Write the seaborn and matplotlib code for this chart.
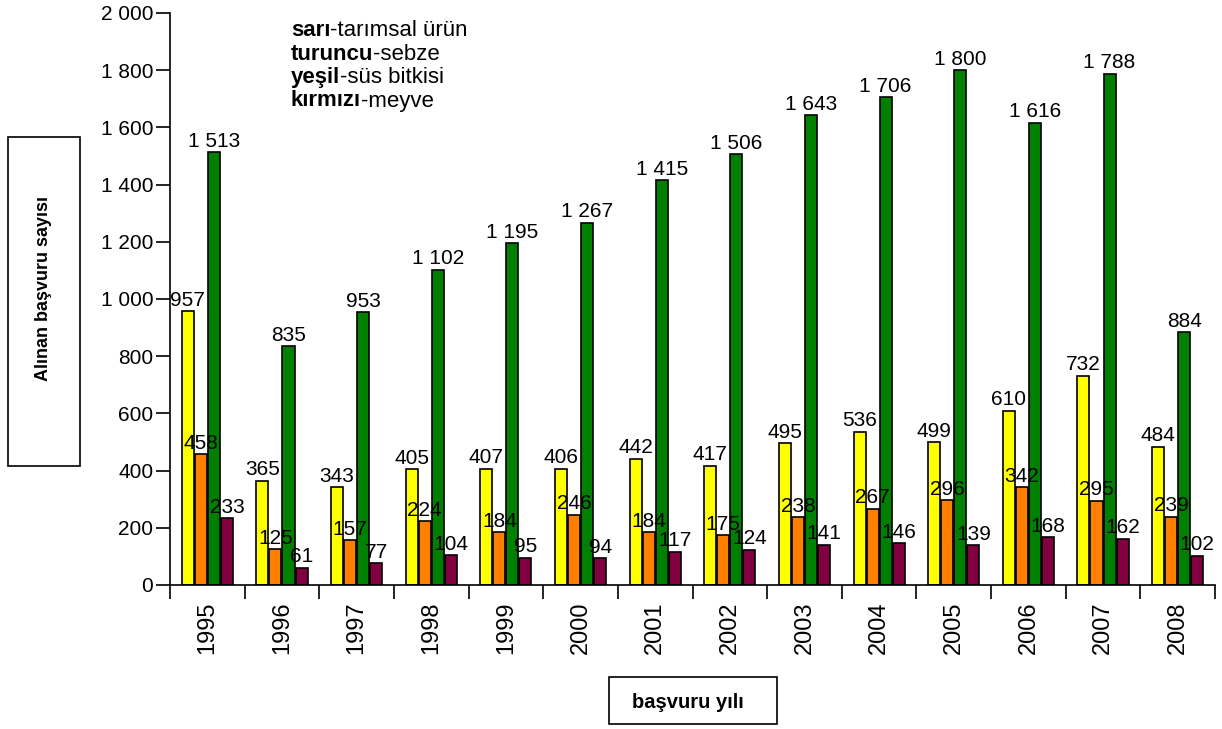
import pandas as pd
import seaborn as sns
import matplotlib.pyplot as plt
from matplotlib.patches import Rectangle

# Data
years = ['1995', '1996', '1997', '1998', '1999', '2000', '2001',
         '2002', '2003', '2004', '2005', '2006', '2007', '2008']
tarimsal = [957, 365, 343, 405, 407, 406, 442, 417, 495, 536, 499, 610, 732, 484]
sebze = [458, 125, 157, 224, 184, 246, 184, 175, 238, 267, 296, 342, 295, 239]
sus = [1513, 835, 953, 1102, 1195, 1267, 1415, 1506, 1643, 1706, 1800, 1616, 1788, 884]
meyve = [233, 61, 77, 104, 95, 94, 117, 124, 141, 146, 139, 168, 162, 102]
series = ['tarımsal ürün', 'sebze', 'süs bitkisi', 'meyve']
colors = ['#FFFF00', '#FF8000', '#008000', '#800040']
y_ticks = list(range(0, 2001, 200))

rows = []
for name, vals in zip(series, [tarimsal, sebze, sus, meyve]):
    for y, v in zip(years, vals):
        rows.append({'yil': y, 'tur': name, 'sayi': v})
df = pd.DataFrame(rows)

sns.set_style('white')
plt.rcParams['font.family'] = ['Liberation Sans', 'DejaVu Sans']
plt.rcParams['text.color'] = 'black'

def fmt(v):
    return f'{int(round(v)):,}'.replace(',', ' ')

fig = plt.figure(figsize=(12.22, 7.29), dpi=100)
ax = fig.add_axes([170 / 1222, 144 / 729, 1045 / 1222, 572 / 729])

sns.barplot(data=df, x='yil', y='sayi', hue='tur', order=years, hue_order=series,
            palette=colors, width=0.7, gap=0.08, edgecolor='black', linewidth=1.2,
            saturation=1, legend=False, ax=ax)

for cont in ax.containers:
    ax.bar_label(cont, labels=[fmt(v) for v in cont.datavalues], padding=1,
                 fontsize=15, color='black')

ax.set_ylim(0, 2000)
ax.set_xlim(-0.5, len(years) - 0.5)
ax.set_yticks(y_ticks)
ax.set_yticklabels([fmt(v) for v in y_ticks], fontsize=15)

# ticks at group boundaries, year labels centred under each group
ax.set_xticks([i - 0.5 for i in range(len(years) + 1)])
ax.set_xticklabels([])
ax.set_xticks(range(len(years)), minor=True)
ax.set_xticklabels(years, minor=True, rotation=90, fontsize=17)
ax.tick_params(axis='x', which='major', bottom=True, direction='out', length=10,
               width=1.2, color='black')
ax.tick_params(axis='x', which='minor', bottom=True, length=0, pad=12, labelcolor='black')
ax.tick_params(axis='y', left=True, direction='out', length=10, width=1.2,
               color='black', pad=2, labelcolor='black')

ax.set_xlabel('')
ax.set_ylabel('')
sns.despine(ax=ax)
for s in ['left', 'bottom']:
    ax.spines[s].set_color('black')
    ax.spines[s].set_linewidth(1.2)

# legend as plain text, first word bold
legend_lines = [('sarı', '-tarımsal ürün'), ('turuncu', '-sebze'),
                ('yeşil', '-süs bitkisi'), ('kırmızı', '-meyve')]
for i, (bold, rest) in enumerate(legend_lines):
    t = fig.text(291 / 1222, 1 - (36 + 23.5 * i) / 729, bold, fontsize=16,
                 fontweight='bold', va='baseline', ha='left')
    ax.annotate(rest, xy=(1, 0), xycoords=t, fontsize=16, va='bottom', ha='left',
                annotation_clip=False)

# boxed axis titles
fig.patches.append(Rectangle((8 / 1222, 263 / 729), 72 / 1222, 329 / 729, transform=fig.transFigure,
                             fill=False, edgecolor='black', linewidth=1.2))
fig.text(44 / 1222, 1 - 289 / 729, 'Alınan başvuru sayısı', rotation=90, fontsize=13,
         fontweight='bold', ha='center', va='center')
fig.patches.append(Rectangle((609 / 1222, 5 / 729), 168 / 1222, 47 / 729, transform=fig.transFigure,
                             fill=False, edgecolor='black', linewidth=1.2))
fig.text(688 / 1222, 1 - 702 / 729, 'başvuru yılı', fontsize=14.5,
         fontweight='bold', ha='center', va='center')

fig.savefig('out.png', dpi=100)
